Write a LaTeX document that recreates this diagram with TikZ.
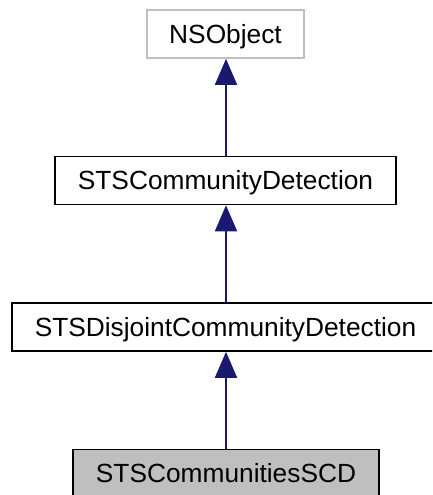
\documentclass[tikz,border=0pt]{standalone}
\usepackage{fontspec}
\setmainfont{Liberation Sans}
\usetikzlibrary{arrows.meta}
\definecolor{edgeblue}{HTML}{191970}
\definecolor{lgray}{HTML}{BFBFBF}
\tikzset{
  cls/.style={draw=black, line width=1.6pt, rectangle, minimum height=48pt,
    text height=18.8pt, text depth=0pt, inner ysep=0pt, inner xsep=0pt,
    font=\fontsize{26.3pt}{30pt}\selectfont},
  inh/.style={draw=edgeblue, line width=1.8pt,
    -{Triangle[length=26pt, width=22pt, fill=edgeblue]}}
}
\begin{document}
\begin{tikzpicture}[x=1pt, y=-1pt]
\useasboundingbox (0,0) rectangle (432,495);
\clip (0,0) rectangle (432,495);
\node[cls, draw=lgray, minimum width=157pt] (ns) at (225.5,34) {NSObject};
\node[cls, minimum width=341pt] (cd) at (225.5,180.5) {STSCommunityDetection};
\node[cls, minimum width=427pt] (dcd) at (225.5,327) {STSDisjointCommunityDetection};
\node[cls, fill=lgray, minimum width=306pt] (scd) at (226,473.5) {STSCommunitiesSCD};
\draw[inh] (cd.north -| 226,0) -- (ns.south -| 226,0);
\draw[inh] (dcd.north -| 226,0) -- (cd.south -| 226,0);
\draw[inh] (scd.north -| 226,0) -- (dcd.south -| 226,0);
\end{tikzpicture}
\end{document}
